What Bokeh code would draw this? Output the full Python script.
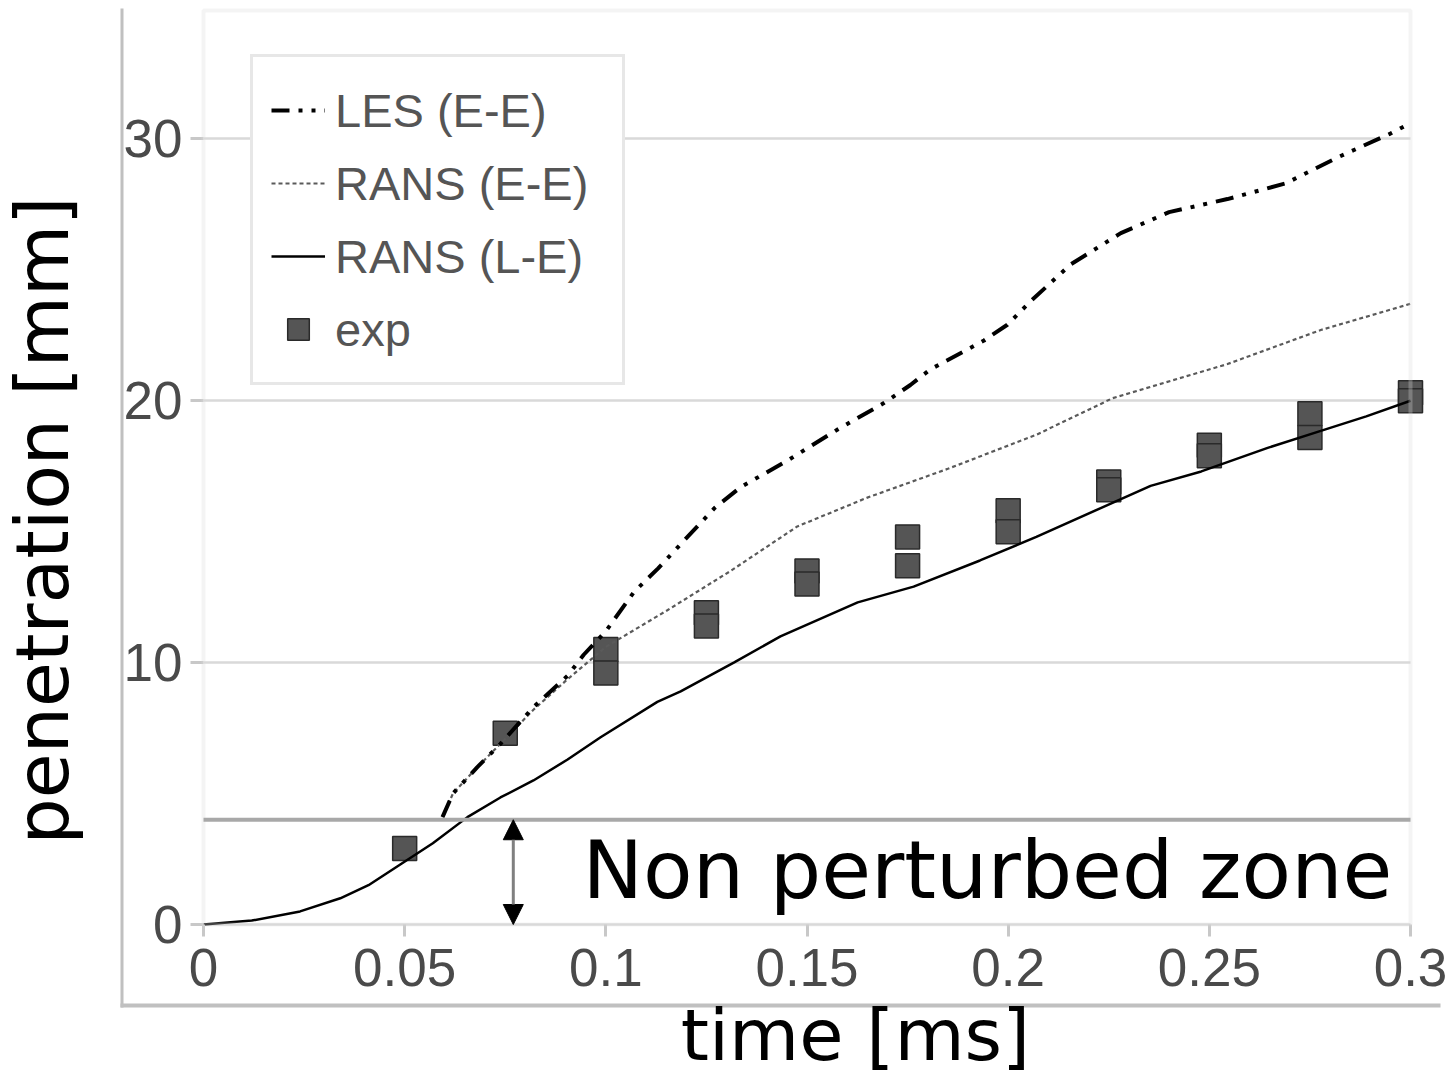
import math
from bokeh.plotting import figure
from bokeh.models import (Range1d, FixedTicker, Label, Arrow, NormalHead,
                          BoxAnnotation, NumeralTickFormatter)
from bokeh.embed import file_html
from bokeh.resources import INLINE

# ---------------- data ----------------
les_t = [0.0594, 0.062, 0.068, 0.0738, 0.082, 0.0905, 0.0945, 0.1, 0.107, 0.113,
         0.127, 0.1335, 0.145, 0.1576, 0.169, 0.1757, 0.1807, 0.194, 0.1998,
         0.2056, 0.2155, 0.228, 0.240, 0.2545, 0.269, 0.282, 0.295, 0.3]
les_y = [4.1, 5.0, 6.0, 6.9, 8.3, 9.5, 10.3, 11.2, 12.7, 13.6,
         15.9, 16.7, 17.7, 18.9, 19.9, 20.6, 21.2, 22.3, 22.9,
         23.8, 25.2, 26.4, 27.2, 27.7, 28.3, 29.3, 30.2, 30.6]

rans_ee_t = [0.0594, 0.062, 0.068, 0.0738, 0.082, 0.09, 0.1, 0.1153, 0.131,
             0.1476, 0.165, 0.185, 0.207, 0.226, 0.2545, 0.2777, 0.3]
rans_ee_y = [4.1, 5.0, 6.0, 6.9, 8.2, 9.3, 10.6, 12.0, 13.5,
             15.2, 16.3, 17.4, 18.7, 20.1, 21.4, 22.7, 23.7]

rans_le_t = [0, 0.012, 0.024, 0.034, 0.041, 0.049, 0.057, 0.0656, 0.0738, 0.082,
             0.0905, 0.0987, 0.1128, 0.1186, 0.1318, 0.1434, 0.1626, 0.1765,
             0.193, 0.207, 0.223, 0.2354, 0.248, 0.2645, 0.2777, 0.289, 0.3]
rans_le_y = [0, 0.15, 0.5, 1.0, 1.5, 2.3, 3.1, 4.1, 4.85, 5.5,
             6.3, 7.15, 8.5, 8.9, 10.0, 11.0, 12.3, 12.9,
             13.9, 14.8, 15.9, 16.75, 17.3, 18.2, 18.85, 19.4, 20.0]

exp_t = [0.05, 0.075, 0.1, 0.1, 0.125, 0.125, 0.15, 0.15, 0.175, 0.175,
         0.2, 0.2, 0.225, 0.225, 0.25, 0.25, 0.275, 0.275, 0.3, 0.3]
exp_y = [2.9, 7.3, 10.5, 9.6, 11.9, 11.4, 13.5, 13.0, 14.8, 13.7,
         15.8, 15.0, 16.9, 16.6, 18.3, 17.9, 19.5, 18.6, 20.3, 20.0]

x_ticks = [0, 0.05, 0.1, 0.15, 0.2, 0.25, 0.3]
x_tick_labels = ["0", "0.05", "0.1", "0.15", "0.2", "0.25", "0.3"]
y_ticks = [0, 10, 20, 30]
y_tick_labels = ["0", "10", "20", "30"]

zone_level = 4.0
zone_label = "Non perturbed zone"
arrow_t = 0.077
x_title = "time [ms]"
y_title = "penetration [mm]"

# ---------------- layout ----------------
W, H = 1450, 1076
# plot-area edges in canvas px and their data values
PL, PR, PT, PB = 203, 1410, 10, 924
T0, T1 = 0.0, 0.3
V0, V1 = 0.0, 34.9
kx = (PR - PL) / (T1 - T0)
ky = (PB - PT) / (V1 - V0)


def dx(px):   # canvas px -> data x
    return T0 + (px - PL) / kx


def dy(py):   # canvas px -> data y
    return V0 + (PB - py) / ky


p = figure(width=W, height=H,
           x_range=Range1d(dx(0), dx(W)), y_range=Range1d(dy(H), dy(0)),
           output_backend="svg", toolbar_location=None,
           min_border_left=0, min_border_right=0,
           min_border_top=0, min_border_bottom=0)
p.min_border = 0
p.background_fill_color = "white"
p.border_fill_color = "white"
p.outline_line_color = None

# axes placed at the plot-area edges
for ax in (p.xaxis[0], p.yaxis[0]):
    ax.axis_line_color = None
    ax.major_tick_line_color = "#c8c8c8"
    ax.major_tick_line_width = 3
    ax.major_tick_in = 0
    ax.minor_tick_line_color = None
    ax.major_label_text_font = "Liberation Sans"
    ax.major_label_text_font_size = "53px"
    ax.major_label_text_color = "#4a4a4a"

p.xaxis.fixed_location = V0
p.xaxis.bounds = (T0, T1)
p.xaxis.ticker = FixedTicker(ticks=x_ticks)
p.xaxis.formatter = NumeralTickFormatter(format="0.[00]")
p.xaxis.major_label_overrides = {t: l for t, l in zip(x_ticks, x_tick_labels)}
p.xaxis.major_tick_out = 12
p.xaxis.major_label_standoff = 12

p.yaxis.fixed_location = T0
p.yaxis.bounds = (V0, V1)
p.yaxis.ticker = FixedTicker(ticks=y_ticks)
p.yaxis.formatter = NumeralTickFormatter(format="0")
p.yaxis.major_label_overrides = {t: l for t, l in zip(y_ticks, y_tick_labels)}
p.yaxis.major_tick_out = 13
p.yaxis.major_label_standoff = 8

p.xgrid.visible = False
g = p.ygrid[0]
g.ticker = FixedTicker(ticks=y_ticks)
g.grid_line_color = "#d9d9d9"
g.grid_line_width = 2.5
g.bounds = (V0, V1)
g.cross_bounds = (T0, T1)

# plot-area border
p.add_layout(BoxAnnotation(left=T0, right=T1, bottom=V0, top=V1,
                           fill_alpha=0, line_color="#d9d9d9", line_width=4))

# outer frame (left + bottom)
p.add_layout(BoxAnnotation(left=dx(120), right=dx(123), top=dy(8), bottom=dy(1007),
                           fill_color="#c0c0c0", fill_alpha=1.0, line_color=None))
p.add_layout(BoxAnnotation(left=dx(120), right=dx(1440), top=dy(1003), bottom=dy(1007),
                           fill_color="#c0c0c0", fill_alpha=1.0, line_color=None))

# non perturbed zone line
p.add_layout(Arrow(x_start=T0, y_start=zone_level, x_end=T1, y_end=zone_level,
                   start=None, end=None, line_color="#a8a8a8", line_width=4))

# data glyphs
r_exp = p.scatter(exp_t, exp_y, marker="square", size=24, fill_color="#555555",
                  line_color="#2a2a2a", line_width=1.5, legend_label="exp")
r_le = p.line(rans_le_t, rans_le_y, line_color="black", line_width=2.5,
              legend_label="RANS (L-E)")
r_ee = p.line(rans_ee_t, rans_ee_y, line_color="#5a5a5a", line_width=2.2,
              line_dash="4 3", legend_label="RANS (E-E)")
r_les = p.line(les_t, les_y, line_color="black", line_width=4,
               line_dash="18 9 4 9 4 9", legend_label="LES (E-E)")

leg = p.legend[0]
items = {it.label.value: it for it in leg.items}
leg.items = [items["LES (E-E)"], items["RANS (E-E)"], items["RANS (L-E)"], items["exp"]]
leg.location = (250, H - 385)      # bottom-left corner of the legend box
leg.margin = 0
leg.padding = 18
leg.spacing = 3
leg.glyph_width = 54
leg.glyph_height = 70
leg.label_height = 70
leg.label_width = 269
leg.label_standoff = 10
leg.label_text_font = "Liberation Sans"
leg.label_text_font_size = "47px"
leg.label_text_color = "#555555"
leg.border_line_color = "#d0d0d0"
leg.border_line_width = 3
leg.background_fill_color = "white"
leg.background_fill_alpha = 1.0

# double arrow
p.add_layout(Arrow(x_start=arrow_t, y_start=zone_level, x_end=arrow_t, y_end=V0,
                   start=NormalHead(size=20, fill_color="black", line_color="black"),
                   end=NormalHead(size=20, fill_color="black", line_color="black"),
                   line_color="#808080", line_width=3))

# texts
p.add_layout(Label(x=dx(582), y=dy(869), text=zone_label, text_font="DejaVu Sans",
                   text_font_size="81px", text_color="black",
                   text_align="left", text_baseline="alphabetic"))
p.add_layout(Label(x=dx(855), y=dy(1034), text=x_title, text_font="DejaVu Sans",
                   text_font_size="72px", text_color="black",
                   text_align="center", text_baseline="alphabetic"))
p.add_layout(Label(x=dx(42), y=dy(520), text=y_title, angle=math.pi / 2,
                   text_font="DejaVu Sans", text_font_size="73px", text_color="black",
                   text_align="center", text_baseline="alphabetic"))

open("out.html", "w").write(file_html(p, INLINE))
